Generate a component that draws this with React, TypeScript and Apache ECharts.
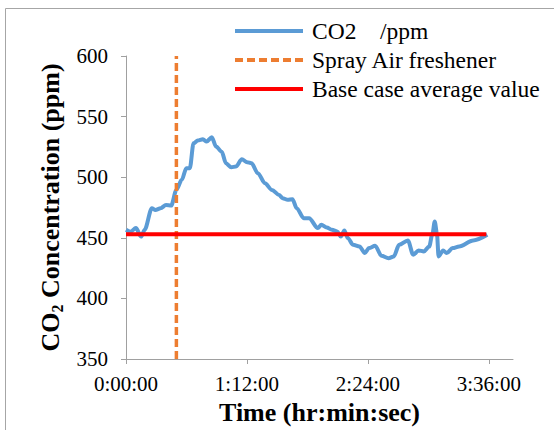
import React, { useEffect, useRef } from "react";
import * as echarts from "echarts";

// time in minutes since start
const timeMin = [0, 2.7, 5.9, 9, 11.1, 15.4, 17.5, 20.6, 23.8, 26.9, 30, 33.2, 35.9, 38, 40.2, 42.7, 45.8, 48, 51.1, 53.6, 57, 59.5, 62.7, 65.4, 69, 72.1, 74.7, 78.5, 82.7, 86.9, 91.1, 93.2, 96.3, 99.1, 101.6, 105.8, 109, 114.2, 116.3, 119.5, 122.6, 125.8, 127.9, 130, 132.1, 135.2, 139, 142.2, 144.7, 148.3, 152.1, 156.3, 159.4, 162.6, 167.8, 171, 174.2, 177.3, 180.5, 182.5, 183.8, 185.1, 186.1, 188.8, 190.9, 194.5, 198.3, 206.7, 215.1];
const co2Ppm = [456.6, 455, 458, 451, 456.6, 474.4, 473, 474.4, 477, 476.6, 489.5, 497.8, 507.4, 507.4, 528, 530.2, 531.3, 529.4, 533, 525.3, 521, 511.5, 508.2, 508.8, 514.8, 512.4, 511.5, 503.3, 495, 489.5, 485.4, 482.7, 481.3, 481.9, 474.4, 466.2, 466.2, 458, 460.7, 458.5, 456.6, 455.2, 451, 456, 449.7, 444.2, 442.8, 437.4, 441.5, 443.4, 435.2, 433.2, 434.6, 444.2, 447.8, 436, 439.6, 438.7, 442.8, 453.8, 463.5, 453.8, 434.6, 439.6, 437.4, 441.5, 442.8, 447.8, 452.5];

const sprayTime = [30, 30];
const sprayRange = [350, 600];
const baseTime = [0, 214.5];
const baseValue = [453, 453];

const xTicks = [0, 72, 144, 216];
const seriesNames = ["CO2    /ppm", "Spray Air freshener", "Base case average value"];

const FONT = "Liberation Serif";

const SOLID_ICON = "path://M0,0h68v4h-68z";
const DASH_ICON = "path://M0,0h8v4h-8z M12,0h8v4h-8z M24,0h8v4h-8z M36,0h8v4h-8z M48,0h8v4h-8z M60,0h8v4h-8z";

function fmtTime(v: number): string {
  const h = Math.floor(v / 60);
  const m = Math.round(v - h * 60);
  return `${h}:${m < 10 ? "0" + m : m}:00`;
}

export default function App() {
  const ref = useRef<HTMLDivElement>(null);
  useEffect(() => {
    if (!ref.current) return;
    const chart = echarts.init(ref.current, null, { renderer: "svg" });
    chart.setOption({
      animation: false,
      backgroundColor: "#ffffff",
      textStyle: { fontFamily: FONT },
      graphic: [
        {
          type: "rect",
          shape: { x: 5.5, y: 8.5, width: 700, height: 600 },
          style: { fill: "none", stroke: "#a6a6a6", lineWidth: 1 },
          z: -1,
        },
      ],
      legend: {
        orient: "vertical",
        left: 235,
        top: 19,
        padding: 0,
        itemWidth: 68,
        itemHeight: 4,
        itemGap: 5,
        textStyle: { fontFamily: FONT, fontSize: 23.5, color: "#000", lineHeight: 24, padding: [0, 0, 0, 4] },
        data: [
          { name: seriesNames[0], icon: SOLID_ICON, itemStyle: { color: "#5B9BD5" } },
          { name: seriesNames[1], icon: DASH_ICON, itemStyle: { color: "#ED7D31" } },
          { name: seriesNames[2], icon: SOLID_ICON, itemStyle: { color: "#FF0000" } },
        ],
      },
      grid: { left: 126, right: 41, top: 56, bottom: 71 },
      xAxis: {
        type: "value",
        min: 0,
        max: 230.4,
        interval: 72,
        name: "Time (hr:min:sec)",
        nameLocation: "middle",
        nameGap: 40,
        nameTextStyle: { fontFamily: FONT, fontSize: 26, fontWeight: "bold", color: "#000" },
        axisLine: { lineStyle: { color: "#a0a0a0", width: 1 } },
        axisTick: { length: 5, lineStyle: { color: "#a0a0a0" }, customValues: xTicks },
        axisLabel: {
          fontFamily: FONT,
          fontSize: 21,
          color: "#000",
          margin: 14,
          customValues: xTicks,
          formatter: (v: number) => fmtTime(v),
        },
        splitLine: { show: false },
      },
      yAxis: {
        type: "value",
        min: 350,
        max: 600,
        interval: 50,
        name: "{a|CO}{b|2}{a| Concentration (ppm)}",
        nameLocation: "middle",
        nameGap: 60,
        nameTextStyle: {
          fontFamily: FONT,
          fontSize: 26,
          fontWeight: "bold",
          color: "#000",
          rich: {
            a: { fontFamily: FONT, fontSize: 26, fontWeight: "bold", color: "#000", lineHeight: 30 },
            b: { fontFamily: FONT, fontSize: 16, fontWeight: "bold", color: "#000", lineHeight: 30, verticalAlign: "bottom" },
          },
        },
        axisLine: { show: true, lineStyle: { color: "#a0a0a0", width: 1 } },
        axisTick: { show: true, length: 5, lineStyle: { color: "#a0a0a0" } },
        axisLabel: { fontFamily: FONT, fontSize: 21, color: "#000", margin: 18 },
        splitLine: { show: false },
      },
      series: [
        {
          name: seriesNames[0],
          type: "line",
          data: timeMin.map((t, i) => [t, co2Ppm[i]]),
          showSymbol: false,
          symbol: "none",
          smooth: 0.3,
          smoothMonotone: "x",
          lineStyle: { color: "#5B9BD5", width: 4 },
          itemStyle: { color: "#5B9BD5" },
          z: 2,
        },
        {
          name: seriesNames[1],
          type: "line",
          data: sprayTime.map((t, i) => [t, sprayRange[i]]),
          showSymbol: false,
          symbol: "none",
          lineStyle: { color: "#ED7D31", width: 3.5, type: [8, 4] },
          itemStyle: { color: "#ED7D31" },
          z: 3,
        },
        {
          name: seriesNames[2],
          type: "line",
          data: baseTime.map((t, i) => [t, baseValue[i]]),
          showSymbol: false,
          symbol: "none",
          lineStyle: { color: "#FF0000", width: 4 },
          itemStyle: { color: "#FF0000" },
          z: 4,
        },
      ],
    });
    return () => chart.dispose();
  }, []);
  return (
    <div
      ref={ref}
      style={{ position: "fixed", left: 0, top: 0, width: 554, height: 430 }}
    />
  );
}
